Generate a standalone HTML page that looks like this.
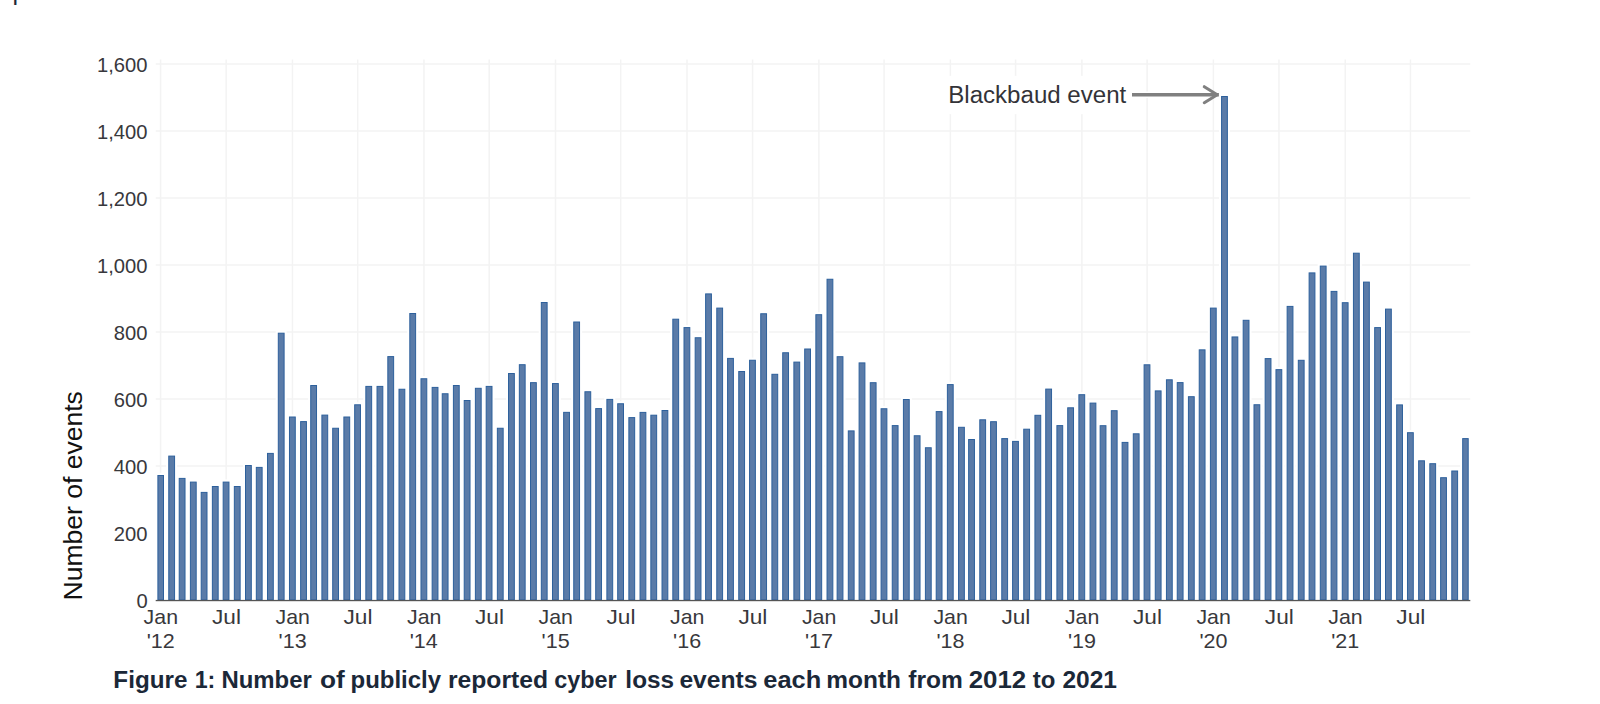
<!DOCTYPE html>
<html lang="en"><head><meta charset="utf-8"><title>Figure 1</title>
<style>
html,body{margin:0;padding:0;background:#fff;}
body{width:1600px;height:704px;overflow:hidden;position:relative;font-family:"Liberation Sans",sans-serif;}
svg{position:absolute;left:0;top:0;display:block;}
text{font-family:"Liberation Sans",sans-serif;}
.tick{font-size:20.4px;fill:#38383c;}
.cap{font-weight:bold;font-size:23px;fill:#1b2838;}
.ytitle{font-size:26px;fill:#111;}
.ann{font-size:23px;fill:#333338;}
</style></head><body>
<svg width="1600" height="704" viewBox="0 0 1600 704">
<rect x="0" y="0" width="1600" height="704" fill="#ffffff"/>
<text x="12.5" y="-0.5" font-size="25" fill="#1b2838">p</text>

<g stroke="#f3f3f3" stroke-width="1.5">
<line x1="155.7" x2="1470.3" y1="533.05" y2="533.05"/>
<line x1="155.7" x2="1470.3" y1="466.05" y2="466.05"/>
<line x1="155.7" x2="1470.3" y1="399.05" y2="399.05"/>
<line x1="155.7" x2="1470.3" y1="332.05" y2="332.05"/>
<line x1="155.7" x2="1470.3" y1="265.05" y2="265.05"/>
<line x1="155.7" x2="1470.3" y1="198.05" y2="198.05"/>
<line x1="155.7" x2="1470.3" y1="131.05" y2="131.05"/>
<line x1="155.7" x2="1470.3" y1="64.05" y2="64.05"/>
<line x1="160.60" x2="160.60" y1="59.5" y2="600"/>
<line x1="226.17" x2="226.17" y1="59.5" y2="600"/>
<line x1="292.47" x2="292.47" y1="59.5" y2="600"/>
<line x1="357.68" x2="357.68" y1="59.5" y2="600"/>
<line x1="423.98" x2="423.98" y1="59.5" y2="600"/>
<line x1="489.19" x2="489.19" y1="59.5" y2="600"/>
<line x1="555.49" x2="555.49" y1="59.5" y2="600"/>
<line x1="620.70" x2="620.70" y1="59.5" y2="600"/>
<line x1="687.00" x2="687.00" y1="59.5" y2="600"/>
<line x1="752.57" x2="752.57" y1="59.5" y2="600"/>
<line x1="818.87" x2="818.87" y1="59.5" y2="600"/>
<line x1="884.08" x2="884.08" y1="59.5" y2="600"/>
<line x1="950.38" x2="950.38" y1="59.5" y2="600"/>
<line x1="1015.59" x2="1015.59" y1="59.5" y2="600"/>
<line x1="1081.89" x2="1081.89" y1="59.5" y2="600"/>
<line x1="1147.10" x2="1147.10" y1="59.5" y2="600"/>
<line x1="1213.40" x2="1213.40" y1="59.5" y2="600"/>
<line x1="1278.97" x2="1278.97" y1="59.5" y2="600"/>
<line x1="1345.27" x2="1345.27" y1="59.5" y2="600"/>
<line x1="1410.48" x2="1410.48" y1="59.5" y2="600"/>
</g>
<rect x="946" y="75.8" width="184" height="38.4" fill="#ffffff"/><line x1="1130" y1="94.7" x2="1219" y2="94.7" stroke="#ffffff" stroke-width="6.6"/>
<g fill="#ffffff">
<rect x="155.30" y="472.90" width="10.80" height="126.90"/>
<rect x="166.17" y="453.50" width="11.00" height="146.30"/>
<rect x="176.62" y="475.80" width="11.00" height="124.00"/>
<rect x="187.79" y="479.50" width="11.00" height="120.30"/>
<rect x="198.60" y="489.80" width="11.00" height="110.00"/>
<rect x="209.77" y="483.90" width="11.00" height="115.90"/>
<rect x="220.57" y="479.50" width="11.00" height="120.30"/>
<rect x="231.74" y="483.90" width="11.00" height="115.90"/>
<rect x="242.91" y="462.90" width="11.00" height="136.90"/>
<rect x="253.72" y="464.80" width="11.00" height="135.00"/>
<rect x="264.89" y="450.80" width="11.00" height="149.00"/>
<rect x="275.70" y="330.60" width="11.00" height="269.20"/>
<rect x="286.87" y="414.40" width="11.00" height="185.40"/>
<rect x="298.04" y="419.00" width="11.00" height="180.80"/>
<rect x="308.13" y="382.90" width="11.00" height="216.90"/>
<rect x="319.30" y="412.50" width="11.00" height="187.30"/>
<rect x="330.11" y="425.65" width="11.00" height="174.15"/>
<rect x="341.28" y="414.40" width="11.00" height="185.40"/>
<rect x="352.08" y="402.20" width="11.00" height="197.60"/>
<rect x="363.25" y="383.80" width="11.00" height="216.00"/>
<rect x="374.42" y="383.80" width="11.00" height="216.00"/>
<rect x="385.23" y="354.00" width="11.00" height="245.80"/>
<rect x="396.40" y="386.65" width="11.00" height="213.15"/>
<rect x="407.21" y="310.90" width="11.00" height="288.90"/>
<rect x="418.38" y="376.15" width="11.00" height="223.65"/>
<rect x="429.55" y="384.80" width="11.00" height="215.00"/>
<rect x="439.64" y="391.15" width="11.00" height="208.65"/>
<rect x="450.81" y="382.90" width="11.00" height="216.90"/>
<rect x="461.62" y="397.90" width="11.00" height="201.90"/>
<rect x="472.78" y="385.70" width="11.00" height="214.10"/>
<rect x="483.59" y="383.80" width="11.00" height="216.00"/>
<rect x="494.76" y="425.65" width="11.00" height="174.15"/>
<rect x="505.93" y="370.90" width="11.00" height="228.90"/>
<rect x="516.74" y="362.10" width="11.00" height="237.70"/>
<rect x="527.91" y="380.05" width="11.00" height="219.75"/>
<rect x="538.72" y="299.90" width="11.00" height="299.90"/>
<rect x="549.89" y="380.95" width="11.00" height="218.85"/>
<rect x="561.06" y="409.75" width="11.00" height="190.05"/>
<rect x="571.15" y="319.40" width="11.00" height="280.40"/>
<rect x="582.32" y="389.15" width="11.00" height="210.65"/>
<rect x="593.12" y="406.00" width="11.00" height="193.80"/>
<rect x="604.29" y="396.80" width="11.00" height="203.00"/>
<rect x="615.10" y="401.15" width="11.00" height="198.65"/>
<rect x="626.27" y="415.00" width="11.00" height="184.80"/>
<rect x="637.44" y="409.80" width="11.00" height="190.00"/>
<rect x="648.25" y="412.60" width="11.00" height="187.20"/>
<rect x="659.42" y="407.90" width="11.00" height="191.90"/>
<rect x="670.23" y="316.60" width="11.00" height="283.20"/>
<rect x="681.40" y="325.00" width="11.00" height="274.80"/>
<rect x="692.57" y="335.15" width="11.00" height="264.65"/>
<rect x="703.02" y="291.30" width="11.00" height="308.50"/>
<rect x="714.19" y="305.50" width="11.00" height="294.30"/>
<rect x="724.99" y="355.80" width="11.00" height="244.00"/>
<rect x="736.16" y="368.90" width="11.00" height="230.90"/>
<rect x="746.97" y="357.65" width="11.00" height="242.15"/>
<rect x="758.14" y="311.15" width="11.00" height="288.65"/>
<rect x="769.31" y="371.70" width="11.00" height="228.10"/>
<rect x="780.12" y="350.15" width="11.00" height="249.65"/>
<rect x="791.29" y="359.50" width="11.00" height="240.30"/>
<rect x="802.10" y="346.40" width="11.00" height="253.40"/>
<rect x="813.27" y="312.10" width="11.00" height="287.70"/>
<rect x="824.44" y="276.65" width="11.00" height="323.15"/>
<rect x="834.53" y="354.10" width="11.00" height="245.70"/>
<rect x="845.70" y="428.30" width="11.00" height="171.50"/>
<rect x="856.50" y="360.30" width="11.00" height="239.50"/>
<rect x="867.67" y="380.10" width="11.00" height="219.70"/>
<rect x="878.48" y="406.15" width="11.00" height="193.65"/>
<rect x="889.65" y="423.00" width="11.00" height="176.80"/>
<rect x="900.82" y="396.90" width="11.00" height="202.90"/>
<rect x="911.63" y="433.15" width="11.00" height="166.65"/>
<rect x="922.80" y="445.15" width="11.00" height="154.65"/>
<rect x="933.61" y="409.00" width="11.00" height="190.80"/>
<rect x="944.78" y="382.00" width="11.00" height="217.80"/>
<rect x="955.95" y="424.70" width="11.00" height="175.10"/>
<rect x="966.04" y="436.90" width="11.00" height="162.90"/>
<rect x="977.20" y="417.20" width="11.00" height="182.60"/>
<rect x="988.01" y="419.10" width="11.00" height="180.70"/>
<rect x="999.18" y="436.00" width="11.00" height="163.80"/>
<rect x="1009.99" y="438.80" width="11.00" height="161.00"/>
<rect x="1021.16" y="426.60" width="11.00" height="173.20"/>
<rect x="1032.33" y="412.70" width="11.00" height="187.10"/>
<rect x="1043.14" y="386.50" width="11.00" height="213.30"/>
<rect x="1054.31" y="423.00" width="11.00" height="176.80"/>
<rect x="1065.12" y="405.20" width="11.00" height="194.60"/>
<rect x="1076.29" y="392.10" width="11.00" height="207.70"/>
<rect x="1087.46" y="400.50" width="11.00" height="199.30"/>
<rect x="1097.54" y="423.10" width="11.00" height="176.70"/>
<rect x="1108.71" y="408.10" width="11.00" height="191.70"/>
<rect x="1119.52" y="439.80" width="11.00" height="160.00"/>
<rect x="1130.69" y="431.20" width="11.00" height="168.60"/>
<rect x="1141.50" y="362.20" width="11.00" height="237.60"/>
<rect x="1152.67" y="388.30" width="11.00" height="211.50"/>
<rect x="1163.84" y="377.20" width="11.00" height="222.60"/>
<rect x="1174.65" y="380.00" width="11.00" height="219.80"/>
<rect x="1185.82" y="394.10" width="11.00" height="205.70"/>
<rect x="1196.63" y="347.25" width="11.00" height="252.55"/>
<rect x="1207.80" y="305.50" width="11.00" height="294.30"/>
<rect x="1218.97" y="93.90" width="11.00" height="505.90"/>
<rect x="1229.41" y="334.35" width="11.00" height="265.45"/>
<rect x="1240.58" y="317.70" width="11.00" height="282.10"/>
<rect x="1251.39" y="402.15" width="11.00" height="197.65"/>
<rect x="1262.56" y="356.00" width="11.00" height="243.80"/>
<rect x="1273.37" y="367.05" width="11.00" height="232.75"/>
<rect x="1284.54" y="303.80" width="11.00" height="296.00"/>
<rect x="1295.71" y="357.70" width="11.00" height="242.10"/>
<rect x="1306.52" y="270.30" width="11.00" height="329.50"/>
<rect x="1317.69" y="263.50" width="11.00" height="336.30"/>
<rect x="1328.50" y="288.80" width="11.00" height="311.00"/>
<rect x="1339.67" y="300.10" width="11.00" height="299.70"/>
<rect x="1350.84" y="250.60" width="11.00" height="349.20"/>
<rect x="1360.92" y="279.50" width="11.00" height="320.30"/>
<rect x="1372.09" y="325.00" width="11.00" height="274.80"/>
<rect x="1382.90" y="306.50" width="11.00" height="293.30"/>
<rect x="1394.07" y="402.30" width="11.00" height="197.50"/>
<rect x="1404.88" y="430.10" width="11.00" height="169.70"/>
<rect x="1416.05" y="458.20" width="11.00" height="141.60"/>
<rect x="1427.22" y="461.10" width="11.00" height="138.70"/>
<rect x="1438.03" y="475.10" width="11.00" height="124.70"/>
<rect x="1449.20" y="468.40" width="11.00" height="131.40"/>
<rect x="1460.10" y="436.00" width="10.70" height="163.80"/>
</g>
<g fill="#5a7ba8" stroke="#2d609c" stroke-width="1.0">
<rect x="157.90" y="475.50" width="5.60" height="124.50"/>
<rect x="168.77" y="456.10" width="5.80" height="143.90"/>
<rect x="179.22" y="478.40" width="5.80" height="121.60"/>
<rect x="190.39" y="482.10" width="5.80" height="117.90"/>
<rect x="201.20" y="492.40" width="5.80" height="107.60"/>
<rect x="212.37" y="486.50" width="5.80" height="113.50"/>
<rect x="223.17" y="482.10" width="5.80" height="117.90"/>
<rect x="234.34" y="486.50" width="5.80" height="113.50"/>
<rect x="245.51" y="465.50" width="5.80" height="134.50"/>
<rect x="256.32" y="467.40" width="5.80" height="132.60"/>
<rect x="267.49" y="453.40" width="5.80" height="146.60"/>
<rect x="278.30" y="333.20" width="5.80" height="266.80"/>
<rect x="289.47" y="417.00" width="5.80" height="183.00"/>
<rect x="300.64" y="421.60" width="5.80" height="178.40"/>
<rect x="310.73" y="385.50" width="5.80" height="214.50"/>
<rect x="321.90" y="415.10" width="5.80" height="184.90"/>
<rect x="332.71" y="428.25" width="5.80" height="171.75"/>
<rect x="343.88" y="417.00" width="5.80" height="183.00"/>
<rect x="354.68" y="404.80" width="5.80" height="195.20"/>
<rect x="365.85" y="386.40" width="5.80" height="213.60"/>
<rect x="377.02" y="386.40" width="5.80" height="213.60"/>
<rect x="387.83" y="356.60" width="5.80" height="243.40"/>
<rect x="399.00" y="389.25" width="5.80" height="210.75"/>
<rect x="409.81" y="313.50" width="5.80" height="286.50"/>
<rect x="420.98" y="378.75" width="5.80" height="221.25"/>
<rect x="432.15" y="387.40" width="5.80" height="212.60"/>
<rect x="442.24" y="393.75" width="5.80" height="206.25"/>
<rect x="453.41" y="385.50" width="5.80" height="214.50"/>
<rect x="464.22" y="400.50" width="5.80" height="199.50"/>
<rect x="475.38" y="388.30" width="5.80" height="211.70"/>
<rect x="486.19" y="386.40" width="5.80" height="213.60"/>
<rect x="497.36" y="428.25" width="5.80" height="171.75"/>
<rect x="508.53" y="373.50" width="5.80" height="226.50"/>
<rect x="519.34" y="364.70" width="5.80" height="235.30"/>
<rect x="530.51" y="382.65" width="5.80" height="217.35"/>
<rect x="541.32" y="302.50" width="5.80" height="297.50"/>
<rect x="552.49" y="383.55" width="5.80" height="216.45"/>
<rect x="563.66" y="412.35" width="5.80" height="187.65"/>
<rect x="573.75" y="322.00" width="5.80" height="278.00"/>
<rect x="584.92" y="391.75" width="5.80" height="208.25"/>
<rect x="595.72" y="408.60" width="5.80" height="191.40"/>
<rect x="606.89" y="399.40" width="5.80" height="200.60"/>
<rect x="617.70" y="403.75" width="5.80" height="196.25"/>
<rect x="628.87" y="417.60" width="5.80" height="182.40"/>
<rect x="640.04" y="412.40" width="5.80" height="187.60"/>
<rect x="650.85" y="415.20" width="5.80" height="184.80"/>
<rect x="662.02" y="410.50" width="5.80" height="189.50"/>
<rect x="672.83" y="319.20" width="5.80" height="280.80"/>
<rect x="684.00" y="327.60" width="5.80" height="272.40"/>
<rect x="695.17" y="337.75" width="5.80" height="262.25"/>
<rect x="705.62" y="293.90" width="5.80" height="306.10"/>
<rect x="716.79" y="308.10" width="5.80" height="291.90"/>
<rect x="727.59" y="358.40" width="5.80" height="241.60"/>
<rect x="738.76" y="371.50" width="5.80" height="228.50"/>
<rect x="749.57" y="360.25" width="5.80" height="239.75"/>
<rect x="760.74" y="313.75" width="5.80" height="286.25"/>
<rect x="771.91" y="374.30" width="5.80" height="225.70"/>
<rect x="782.72" y="352.75" width="5.80" height="247.25"/>
<rect x="793.89" y="362.10" width="5.80" height="237.90"/>
<rect x="804.70" y="349.00" width="5.80" height="251.00"/>
<rect x="815.87" y="314.70" width="5.80" height="285.30"/>
<rect x="827.04" y="279.25" width="5.80" height="320.75"/>
<rect x="837.13" y="356.70" width="5.80" height="243.30"/>
<rect x="848.30" y="430.90" width="5.80" height="169.10"/>
<rect x="859.10" y="362.90" width="5.80" height="237.10"/>
<rect x="870.27" y="382.70" width="5.80" height="217.30"/>
<rect x="881.08" y="408.75" width="5.80" height="191.25"/>
<rect x="892.25" y="425.60" width="5.80" height="174.40"/>
<rect x="903.42" y="399.50" width="5.80" height="200.50"/>
<rect x="914.23" y="435.75" width="5.80" height="164.25"/>
<rect x="925.40" y="447.75" width="5.80" height="152.25"/>
<rect x="936.21" y="411.60" width="5.80" height="188.40"/>
<rect x="947.38" y="384.60" width="5.80" height="215.40"/>
<rect x="958.55" y="427.30" width="5.80" height="172.70"/>
<rect x="968.64" y="439.50" width="5.80" height="160.50"/>
<rect x="979.80" y="419.80" width="5.80" height="180.20"/>
<rect x="990.61" y="421.70" width="5.80" height="178.30"/>
<rect x="1001.78" y="438.60" width="5.80" height="161.40"/>
<rect x="1012.59" y="441.40" width="5.80" height="158.60"/>
<rect x="1023.76" y="429.20" width="5.80" height="170.80"/>
<rect x="1034.93" y="415.30" width="5.80" height="184.70"/>
<rect x="1045.74" y="389.10" width="5.80" height="210.90"/>
<rect x="1056.91" y="425.60" width="5.80" height="174.40"/>
<rect x="1067.72" y="407.80" width="5.80" height="192.20"/>
<rect x="1078.89" y="394.70" width="5.80" height="205.30"/>
<rect x="1090.06" y="403.10" width="5.80" height="196.90"/>
<rect x="1100.14" y="425.70" width="5.80" height="174.30"/>
<rect x="1111.31" y="410.70" width="5.80" height="189.30"/>
<rect x="1122.12" y="442.40" width="5.80" height="157.60"/>
<rect x="1133.29" y="433.80" width="5.80" height="166.20"/>
<rect x="1144.10" y="364.80" width="5.80" height="235.20"/>
<rect x="1155.27" y="390.90" width="5.80" height="209.10"/>
<rect x="1166.44" y="379.80" width="5.80" height="220.20"/>
<rect x="1177.25" y="382.60" width="5.80" height="217.40"/>
<rect x="1188.42" y="396.70" width="5.80" height="203.30"/>
<rect x="1199.23" y="349.85" width="5.80" height="250.15"/>
<rect x="1210.40" y="308.10" width="5.80" height="291.90"/>
<rect x="1221.57" y="96.50" width="5.80" height="503.50"/>
<rect x="1232.01" y="336.95" width="5.80" height="263.05"/>
<rect x="1243.18" y="320.30" width="5.80" height="279.70"/>
<rect x="1253.99" y="404.75" width="5.80" height="195.25"/>
<rect x="1265.16" y="358.60" width="5.80" height="241.40"/>
<rect x="1275.97" y="369.65" width="5.80" height="230.35"/>
<rect x="1287.14" y="306.40" width="5.80" height="293.60"/>
<rect x="1298.31" y="360.30" width="5.80" height="239.70"/>
<rect x="1309.12" y="272.90" width="5.80" height="327.10"/>
<rect x="1320.29" y="266.10" width="5.80" height="333.90"/>
<rect x="1331.10" y="291.40" width="5.80" height="308.60"/>
<rect x="1342.27" y="302.70" width="5.80" height="297.30"/>
<rect x="1353.44" y="253.20" width="5.80" height="346.80"/>
<rect x="1363.52" y="282.10" width="5.80" height="317.90"/>
<rect x="1374.69" y="327.60" width="5.80" height="272.40"/>
<rect x="1385.50" y="309.10" width="5.80" height="290.90"/>
<rect x="1396.67" y="404.90" width="5.80" height="195.10"/>
<rect x="1407.48" y="432.70" width="5.80" height="167.30"/>
<rect x="1418.65" y="460.80" width="5.80" height="139.20"/>
<rect x="1429.82" y="463.70" width="5.80" height="136.30"/>
<rect x="1440.63" y="477.70" width="5.80" height="122.30"/>
<rect x="1451.80" y="471.00" width="5.80" height="129.00"/>
<rect x="1462.70" y="438.60" width="5.50" height="161.40"/>
</g>
<rect x="155.7" y="599.9" width="1314.6" height="1.3" fill="#555"/>
<g class="tick">
<text x="136.44" y="607.8" textLength="11.23" lengthAdjust="spacingAndGlyphs">0</text>
<text x="113.83" y="540.8" textLength="33.69" lengthAdjust="spacingAndGlyphs">200</text>
<text x="113.83" y="473.8" textLength="33.69" lengthAdjust="spacingAndGlyphs">400</text>
<text x="113.83" y="406.8" textLength="33.69" lengthAdjust="spacingAndGlyphs">600</text>
<text x="113.83" y="339.8" textLength="33.69" lengthAdjust="spacingAndGlyphs">800</text>
<text x="97.00" y="272.8" textLength="50.52" lengthAdjust="spacingAndGlyphs">1,000</text>
<text x="97.00" y="205.8" textLength="50.52" lengthAdjust="spacingAndGlyphs">1,200</text>
<text x="97.00" y="138.8" textLength="50.52" lengthAdjust="spacingAndGlyphs">1,400</text>
<text x="97.00" y="71.8" textLength="50.52" lengthAdjust="spacingAndGlyphs">1,600</text>
</g>
<g class="tick">
<text x="143.63" y="623.85" textLength="34.39" lengthAdjust="spacingAndGlyphs">Jan</text>
<text x="146.72" y="647.8" textLength="28.02" lengthAdjust="spacingAndGlyphs">'12</text>
<text x="212.01" y="623.85" textLength="29.00" lengthAdjust="spacingAndGlyphs">Jul</text>
<text x="275.50" y="623.85" textLength="34.39" lengthAdjust="spacingAndGlyphs">Jan</text>
<text x="278.58" y="647.8" textLength="28.02" lengthAdjust="spacingAndGlyphs">'13</text>
<text x="343.52" y="623.85" textLength="29.00" lengthAdjust="spacingAndGlyphs">Jul</text>
<text x="407.01" y="623.85" textLength="34.39" lengthAdjust="spacingAndGlyphs">Jan</text>
<text x="409.77" y="647.8" textLength="28.02" lengthAdjust="spacingAndGlyphs">'14</text>
<text x="475.03" y="623.85" textLength="29.00" lengthAdjust="spacingAndGlyphs">Jul</text>
<text x="538.52" y="623.85" textLength="34.39" lengthAdjust="spacingAndGlyphs">Jan</text>
<text x="541.58" y="647.8" textLength="28.02" lengthAdjust="spacingAndGlyphs">'15</text>
<text x="606.54" y="623.85" textLength="29.00" lengthAdjust="spacingAndGlyphs">Jul</text>
<text x="670.03" y="623.85" textLength="34.39" lengthAdjust="spacingAndGlyphs">Jan</text>
<text x="673.09" y="647.8" textLength="28.02" lengthAdjust="spacingAndGlyphs">'16</text>
<text x="738.41" y="623.85" textLength="29.00" lengthAdjust="spacingAndGlyphs">Jul</text>
<text x="801.90" y="623.85" textLength="34.39" lengthAdjust="spacingAndGlyphs">Jan</text>
<text x="804.94" y="647.8" textLength="28.02" lengthAdjust="spacingAndGlyphs">'17</text>
<text x="869.92" y="623.85" textLength="29.00" lengthAdjust="spacingAndGlyphs">Jul</text>
<text x="933.41" y="623.85" textLength="34.39" lengthAdjust="spacingAndGlyphs">Jan</text>
<text x="936.48" y="647.8" textLength="28.02" lengthAdjust="spacingAndGlyphs">'18</text>
<text x="1001.43" y="623.85" textLength="29.00" lengthAdjust="spacingAndGlyphs">Jul</text>
<text x="1064.92" y="623.85" textLength="34.39" lengthAdjust="spacingAndGlyphs">Jan</text>
<text x="1067.97" y="647.8" textLength="28.02" lengthAdjust="spacingAndGlyphs">'19</text>
<text x="1132.94" y="623.85" textLength="29.00" lengthAdjust="spacingAndGlyphs">Jul</text>
<text x="1196.43" y="623.85" textLength="34.39" lengthAdjust="spacingAndGlyphs">Jan</text>
<text x="1199.42" y="647.8" textLength="28.02" lengthAdjust="spacingAndGlyphs">'20</text>
<text x="1264.81" y="623.85" textLength="29.00" lengthAdjust="spacingAndGlyphs">Jul</text>
<text x="1328.30" y="623.85" textLength="34.39" lengthAdjust="spacingAndGlyphs">Jan</text>
<text x="1331.20" y="647.8" textLength="28.02" lengthAdjust="spacingAndGlyphs">'21</text>
<text x="1396.32" y="623.85" textLength="29.00" lengthAdjust="spacingAndGlyphs">Jul</text>
</g>
<text class="ann" x="948.22" y="102.8" textLength="178.05" lengthAdjust="spacingAndGlyphs">Blackbaud event</text>
<g stroke="#808080" fill="none"><line x1="1132" y1="94.7" x2="1218.9" y2="94.7" stroke-width="3.4"/><polyline points="1204.3,86.7 1217.2,94.7 1204.3,102.7" stroke-width="3.1" stroke-linecap="round" stroke-linejoin="bevel"/></g>
<text class="ytitle" transform="translate(82.4,598.2) rotate(-90)" x="-2.20" textLength="209.27" lengthAdjust="spacingAndGlyphs">Number of events</text>
<text class="cap" y="687.5"><tspan x="113.38" textLength="74.01" lengthAdjust="spacingAndGlyphs">Figure</tspan> <tspan x="194.71" textLength="20.66" lengthAdjust="spacingAndGlyphs">1:</tspan> <tspan x="221.50" textLength="90.27" lengthAdjust="spacingAndGlyphs">Number</tspan> <tspan x="320.02" textLength="24.74" lengthAdjust="spacingAndGlyphs">of</tspan> <tspan x="350.52" textLength="90.52" lengthAdjust="spacingAndGlyphs">publicly</tspan> <tspan x="447.97" textLength="100.01" lengthAdjust="spacingAndGlyphs">reported</tspan> <tspan x="554.19" textLength="62.33" lengthAdjust="spacingAndGlyphs">cyber</tspan> <tspan x="625.39" textLength="48.66" lengthAdjust="spacingAndGlyphs">loss</tspan> <tspan x="679.42" textLength="78.06" lengthAdjust="spacingAndGlyphs">events</tspan> <tspan x="763.28" textLength="57.90" lengthAdjust="spacingAndGlyphs">each</tspan> <tspan x="826.39" textLength="74.64" lengthAdjust="spacingAndGlyphs">month</tspan> <tspan x="908.32" textLength="54.50" lengthAdjust="spacingAndGlyphs">from</tspan> <tspan x="968.68" textLength="57.57" lengthAdjust="spacingAndGlyphs">2012</tspan> <tspan x="1032.79" textLength="22.60" lengthAdjust="spacingAndGlyphs">to</tspan> <tspan x="1062.43" textLength="54.59" lengthAdjust="spacingAndGlyphs">2021</tspan></text>
</svg></body></html>
